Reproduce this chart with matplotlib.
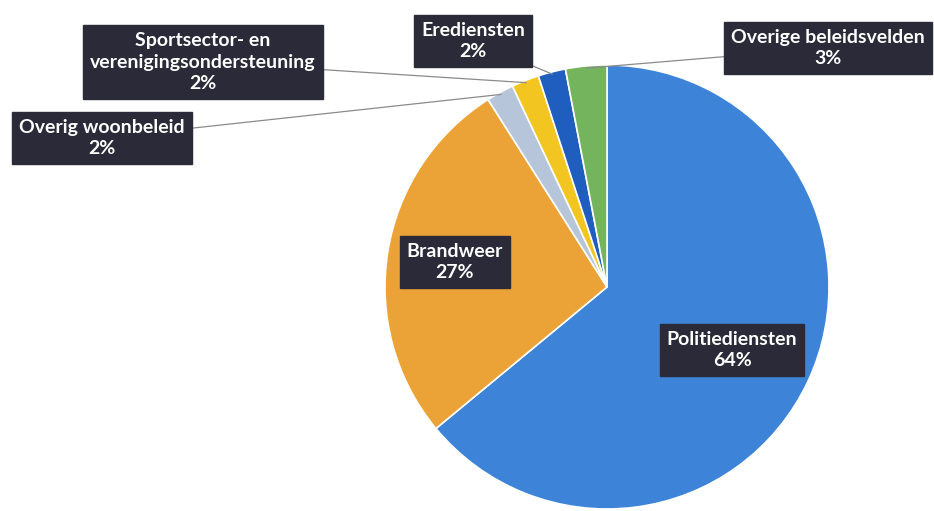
import numpy as np
import matplotlib
matplotlib.use('Agg')
import matplotlib.pyplot as plt

# Aandeel per beleidsveld (%)
labels = ['Politiediensten', 'Brandweer', 'Overig woonbeleid',
          'Sportsector- en\nverenigingsondersteuning', 'Erediensten',
          'Overige beleidsvelden']
shares = [64, 27, 2, 2, 2, 3]
colors = ['#3D84D8', '#EBA236', '#B7C5DA', '#F2C520', '#1F5DBE', '#74B45C']
explode = [0, 0, 0, 0, 0, 0.045]

W, H = 934, 511
fig = plt.figure(figsize=(W / 100, H / 100), dpi=100)
ax = fig.add_axes([0, 0, 1, 1])

cx, cy, R = 607, 224, 222
wedges, _ = ax.pie(shares, colors=colors, explode=explode, startangle=90,
                   counterclock=False, center=(cx, cy), radius=R, frame=True,
                   wedgeprops=dict(edgecolor='white', linewidth=1.2))

ax.set_xlim(0, W)
ax.set_ylim(0, H)
ax.set_aspect('equal')
ax.axis('off')

box = dict(boxstyle='square,pad=0.35', facecolor='#2A2A38', edgecolor='#2A2A38')
txt = dict(color='white', fontsize=14, fontweight='bold', family='Lato',
           ha='center', va='center', linespacing=1.35, bbox=box)

# label positions (figure pixels, y up) and whether a leader line is drawn
label_pos = [(732, 161, False), (455, 249, False), (102, 373, True),
             (203, 449, True), (473, 470, True), (828, 463, True)]

for w, lab, v, (tx, ty, lead) in zip(wedges, labels, shares, label_pos):
    s = f'{lab}\n{v}%'
    if lead:
        ang = np.deg2rad((w.theta1 + w.theta2) / 2)
        ox, oy = w.center
        px = ox + w.r * 0.99 * np.cos(ang)
        py = oy + w.r * 0.99 * np.sin(ang)
        ax.annotate(s, xy=(px, py), xytext=(tx, ty),
                    arrowprops=dict(arrowstyle='-', color='#8A8A8A', lw=0.9,
                                    shrinkA=0, shrinkB=0),
                    **txt)
    else:
        ax.text(tx, ty, s, **txt)

fig.savefig('out.png', dpi=100, facecolor='white')
